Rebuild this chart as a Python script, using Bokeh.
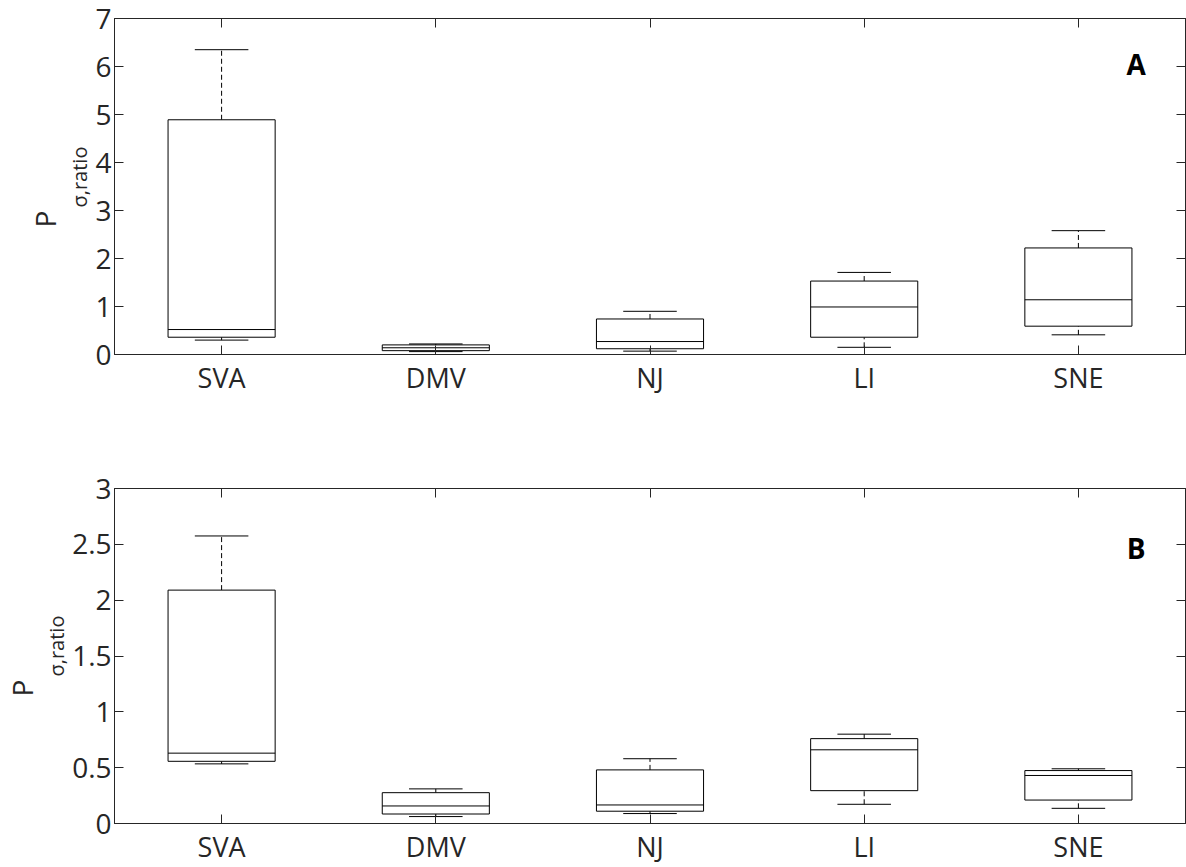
from bokeh.plotting import figure
from bokeh.layouts import column
from bokeh.models import FixedTicker, LinearAxis, Label, Range1d, ColumnDataSource, Title
from bokeh.embed import file_html
from bokeh.resources import INLINE

regions = ["SVA", "DMV", "NJ", "LI", "SNE"]

# Panel A statistics
a_low = [0.30, 0.06, 0.07, 0.15, 0.41]
a_q1 = [0.36, 0.08, 0.12, 0.36, 0.59]
a_med = [0.52, 0.14, 0.27, 0.99, 1.14]
a_q3 = [4.89, 0.20, 0.74, 1.53, 2.22]
a_high = [6.35, 0.22, 0.90, 1.71, 2.58]

# Panel B statistics
b_low = [0.534, 0.062, 0.089, 0.172, 0.136]
b_q1 = [0.557, 0.085, 0.110, 0.294, 0.210]
b_med = [0.630, 0.157, 0.166, 0.660, 0.430]
b_q3 = [2.090, 0.276, 0.480, 0.760, 0.474]
b_high = [2.575, 0.310, 0.580, 0.800, 0.490]

a_yticks = [0, 1, 2, 3, 4, 5, 6, 7]
b_yticks = [0, 0.5, 1, 1.5, 2, 2.5, 3]
b_ytick_labels = ["0", "0.5", "1", "1.5", "2", "2.5", "3"]

FONT = "Open Sans"
AX = "#262626"
FRAME_W = 1075
BORDER_L = 110


def make_panel(low, q1, med, q3, high, ymax, yticks, ylabels, letter, letter_y,
               height, btop, bbot):
    xs = list(range(1, len(regions) + 1))
    p = figure(width=BORDER_L + FRAME_W + 1, height=height, output_backend="svg",
               toolbar_location=None,
               x_range=Range1d(0.5, 5.5), y_range=Range1d(0, ymax),
               min_border_left=BORDER_L, min_border_right=1, min_border_top=btop,
               min_border_bottom=bbot, x_axis_type=None, y_axis_type=None)
    p.grid.visible = False
    p.outline_line_color = AX
    p.outline_line_width = 1
    p.background_fill_color = "white"
    p.border_fill_color = "white"

    xt = FixedTicker(ticks=xs, minor_ticks=[])
    yt = FixedTicker(ticks=yticks, minor_ticks=[])

    def style(ax, fs=None):
        ax.axis_line_color = AX
        ax.major_tick_line_color = AX
        ax.major_tick_in = 9
        ax.major_tick_out = 0
        ax.minor_tick_line_color = None
        ax.major_label_text_font = FONT
        if fs:
            ax.major_label_text_color = AX
            ax.major_label_text_font_size = fs
        else:
            ax.major_label_text_color = None
            ax.major_label_text_font_size = "1px"
            ax.major_label_standoff = 0

    bx = LinearAxis(ticker=xt, major_label_overrides={x: r for x, r in zip(xs, regions)})
    style(bx, "27px")
    bx.major_label_standoff = 4
    p.add_layout(bx, "below")
    tx = LinearAxis(ticker=xt)
    style(tx)
    p.add_layout(tx, "above")

    ly = LinearAxis(ticker=yt, major_label_overrides={t: l for t, l in zip(yticks, ylabels)})
    style(ly, "28px")
    ly.major_label_standoff = 3
    p.add_layout(ly, "left")
    ry = LinearAxis(ticker=yt)
    style(ry)
    p.add_layout(ry, "right")

    # y label P_{σ,ratio} as two vertical titles (subscript nearer the axis)
    p.add_layout(Title(text="σ,ratio", align="left", offset=147, standoff=0,
                       text_font=FONT, text_font_size="20px", text_font_style="normal",
                       text_color=AX), "left")
    p.add_layout(Title(text="P", align="left", offset=127, standoff=0,
                       text_font=FONT, text_font_size="28px", text_font_style="normal",
                       text_color=AX), "left")

    src = ColumnDataSource(dict(x=xs, low=low, q1=q1, med=med, q3=q3, high=high,
                                left=[x - 0.25 for x in xs], right=[x + 0.25 for x in xs],
                                cl=[x - 0.125 for x in xs], cr=[x + 0.125 for x in xs]))
    # whiskers
    p.segment(x0="x", y0="q3", x1="x", y1="high", source=src, line_color="black",
              line_width=1, line_dash="5 3")
    p.segment(x0="x", y0="low", x1="x", y1="q1", source=src, line_color="black",
              line_width=1, line_dash="5 3")
    # caps
    p.segment(x0="cl", y0="high", x1="cr", y1="high", source=src, line_color="black", line_width=1)
    p.segment(x0="cl", y0="low", x1="cr", y1="low", source=src, line_color="black", line_width=1)
    # boxes
    p.quad(left="left", right="right", bottom="q1", top="q3", source=src,
           fill_color="white", line_color="black", line_width=1)
    # medians
    p.segment(x0="left", y0="med", x1="right", y1="med", source=src, line_color="black", line_width=1)

    # panel letter
    p.add_layout(Label(x=5.27, y=letter_y, text=letter, text_font=FONT,
                       text_font_style="bold", text_font_size="28px", text_color="black",
                       text_align="center", text_baseline="middle"))
    return p


pA = make_panel(a_low, a_q1, a_med, a_q3, a_high, 7, a_yticks, [str(t) for t in a_yticks],
                "A", 6.06, 468, 18, 114)
pB = make_panel(b_low, b_q1, b_med, b_q3, b_high, 3, b_yticks, b_ytick_labels,
                "B", 2.47, 399, 20, 41)

layout = column(pA, pB, spacing=0)
open("out.html", "w").write(file_html(layout, INLINE))
